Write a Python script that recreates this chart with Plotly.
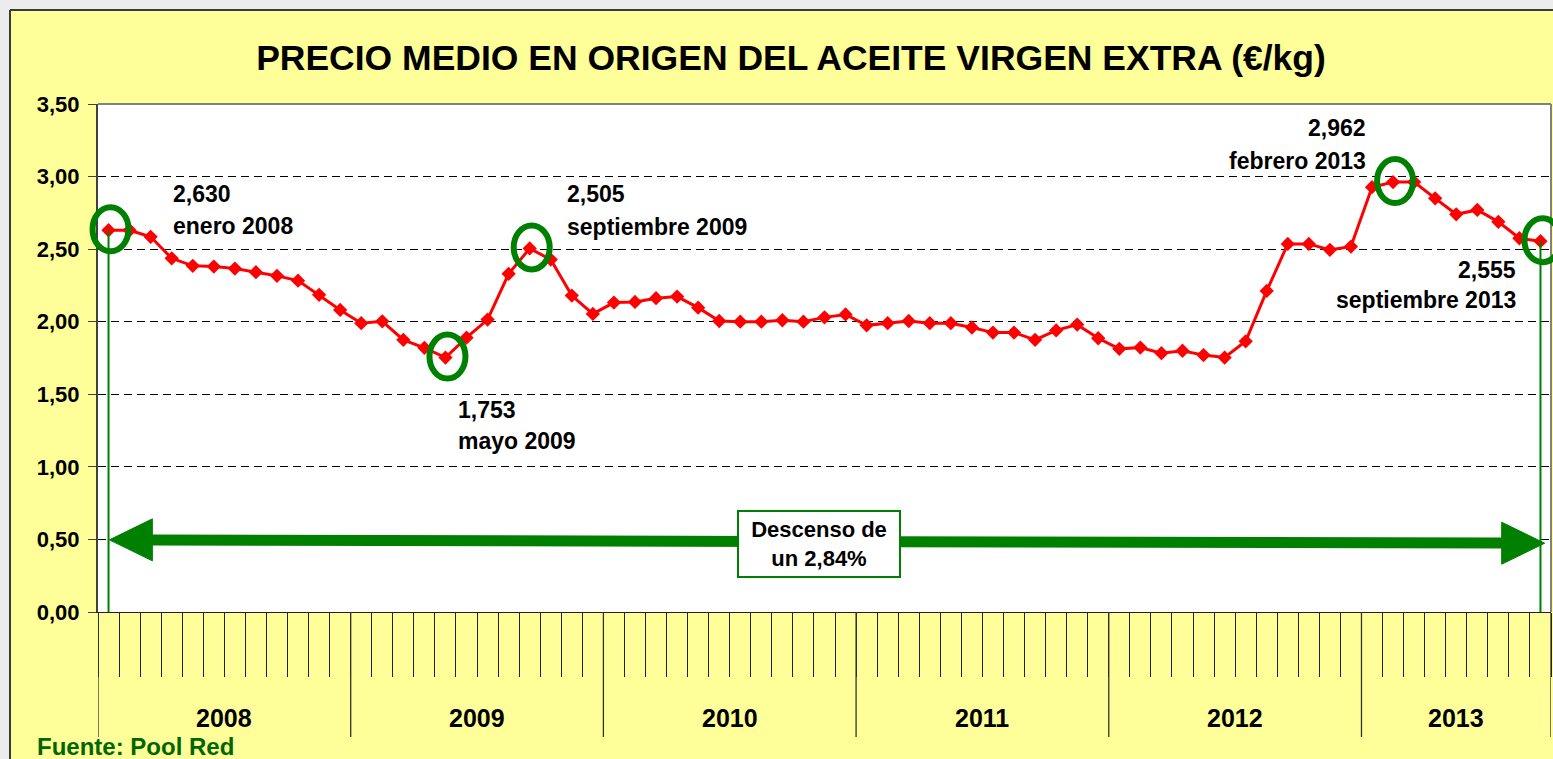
import plotly.graph_objects as go

# ---------------- data ----------------
meses_cortos = ["ene", "feb", "mar", "abr", "may", "jun", "jul", "ago", "sep", "oct", "nov", "dic"]
meses_largos = ["enero", "febrero", "marzo", "abril", "mayo", "junio", "julio", "agosto",
                "septiembre", "octubre", "noviembre", "diciembre"]
anios = [2008, 2009, 2010, 2011, 2012, 2013]
meses_por_anio = [12, 12, 12, 12, 12, 9]

precio = [
    2.630, 2.630, 2.585, 2.437, 2.385, 2.380, 2.366, 2.341, 2.316, 2.283, 2.185, 2.081,   # 2008
    1.990, 2.003, 1.875, 1.820, 1.753, 1.890, 2.015, 2.330, 2.505, 2.428, 2.180, 2.054,   # 2009
    2.132, 2.136, 2.162, 2.173, 2.097, 2.005, 2.000, 2.000, 2.010, 2.000, 2.030, 2.050,   # 2010
    1.975, 1.990, 2.005, 1.990, 1.990, 1.960, 1.925, 1.925, 1.875, 1.940, 1.980, 1.886,   # 2011
    1.813, 1.822, 1.783, 1.800, 1.770, 1.753, 1.865, 2.212, 2.536, 2.536, 2.495, 2.518,   # 2012
    2.927, 2.962, 2.962, 2.850, 2.740, 2.770, 2.688, 2.575, 2.555,                        # 2013
]

y_ticks = [0.0, 0.5, 1.0, 1.5, 2.0, 2.5, 3.0, 3.5]

categorias = [f"{m}-{str(a)[2:]}" for a, n in zip(anios, meses_por_anio) for m in meses_cortos[:n]]
nombres_largos = [f"{m} {a}" for a, n in zip(anios, meses_por_anio) for m in meses_largos[:n]]

destacados = ["ene-08", "may-09", "sep-09", "feb-13", "sep-13"]
texto_descenso = "Descenso de<br>un 2,84%"
titulo = "PRECIO MEDIO EN ORIGEN DEL ACEITE VIRGEN EXTRA (€/kg)"
fuente = "Fuente: Pool Red"

# ---------------- layout geometry / styles ----------------
W, H = 1553, 759
ML, MR, MT, MB = 98, 2, 104, 147
PW, PH = W - ML - MR, H - MT - MB
FONT = "Liberation Sans, Arial, sans-serif"
GREEN = "#008000"
YELLOW = "#FFFF99"

n = len(categorias)
x_min, x_max = -0.5, n - 0.5
px_por_unidad = PW / (x_max - x_min)


def xp(px):
    return (px - ML) / PW


def yp(py):
    return (MT + PH - py) / PH


def idx_paper(i):
    return (i - x_min) / (x_max - x_min)


# label placement (pixel offsets relative to the point)
estilo_etiquetas = {
    "ene-08": dict(xshift=62, ys=(36, 4), anchor="left"),
    "sep-09": dict(xshift=35, ys=(54, 21), anchor="left"),
    "may-09": dict(xshift=11, ys=(-52, -83), anchor="left"),
    "feb-13": dict(xshift=-25, ys=(54, 21), anchor="right"),
    "sep-13": dict(xshift=-22, ys=(-29, -59), anchor="right"),
}

fig = go.Figure()

fig.add_trace(go.Scatter(
    x=categorias, y=precio, mode="lines+markers",
    line=dict(color="#FF0000", width=3),
    marker=dict(symbol="diamond", size=11, color="#FF0000"),
    hoverinfo="x+y", showlegend=False,
))

shapes = []
annotations = []

# outside (grey) border of the chart area
shapes.append(dict(type="rect", xref="paper", yref="paper", x0=xp(-5), x1=xp(10), y0=yp(H + 5), y1=yp(-5),
                   fillcolor="#ECECEC", line=dict(width=0), layer="below"))
shapes.append(dict(type="rect", xref="paper", yref="paper", x0=xp(-5), x1=xp(W + 5), y0=yp(10), y1=yp(-5),
                   fillcolor="#ECECEC", line=dict(width=0), layer="below"))
shapes.append(dict(type="line", xref="paper", yref="paper", x0=xp(10), x1=xp(10), y0=yp(10), y1=yp(H + 5),
                   line=dict(color="#3A3A3A", width=2)))
shapes.append(dict(type="line", xref="paper", yref="paper", x0=xp(10), x1=xp(W + 5), y0=yp(10), y1=yp(10),
                   line=dict(color="#3A3A3A", width=2)))

# plot area border (top / right)
shapes.append(dict(type="line", xref="paper", yref="paper", x0=0, x1=1, y0=1, y1=1,
                   line=dict(color="#808080", width=2)))
shapes.append(dict(type="line", xref="paper", yref="paper", x0=1, x1=1, y0=0, y1=1,
                   line=dict(color="#808080", width=2)))

# year separators and labels
inicio = 0
for a, nm in zip(anios, meses_por_anio):
    shapes.append(dict(type="line", xref="x", yref="paper", x0=inicio - 0.5, x1=inicio - 0.5,
                       y0=0, y1=yp(737), line=dict(color="#333333", width=1.3)))
    annotations.append(dict(xref="x", yref="paper", x=inicio + (nm - 1) / 2, y=yp(718),
                            text=f"<b>{a}</b>", showarrow=False, xanchor="center", yanchor="middle",
                            font=dict(family=FONT, size=25, color="black")))
    inicio += nm
shapes.append(dict(type="line", xref="x", yref="paper", x0=inicio - 0.5, x1=inicio - 0.5,
                   y0=0, y1=yp(737), line=dict(color="#333333", width=1.3)))

# green vertical lines from first / last highlighted point to the axis
for cat in (destacados[0], destacados[-1]):
    i = categorias.index(cat)
    shapes.append(dict(type="line", xref="x", yref="y", x0=i, x1=i, y0=0, y1=precio[i],
                       line=dict(color=GREEN, width=2)))

# big double arrow
i0 = categorias.index(destacados[0])
i1 = categorias.index(destacados[-1])
fx0, fy0 = i0 + 0.04, 0.497
fx1, fy1 = i1 + 0.2, 0.474
cabeza = 42
dx = cabeza / px_por_unidad
pend = (fy1 - fy0) / (fx1 - fx0)
shapes.append(dict(type="line", xref="x", yref="y",
                   x0=fx0 + dx, y0=fy0 + pend * dx, x1=fx1 - dx, y1=fy1 - pend * dx,
                   line=dict(color=GREEN, width=11)))
shapes.append(dict(type="path", xref="x", yref="y", xsizemode="pixel", ysizemode="pixel",
                   xanchor=fx0, yanchor=fy0, path=f"M 0 0 L {cabeza + 1} 21 L {cabeza + 1} -21 Z",
                   fillcolor=GREEN, line=dict(color=GREEN, width=1)))
shapes.append(dict(type="path", xref="x", yref="y", xsizemode="pixel", ysizemode="pixel",
                   xanchor=fx1, yanchor=fy1, path=f"M 0 0 L {-cabeza - 1} 21 L {-cabeza - 1} -21 Z",
                   fillcolor=GREEN, line=dict(color=GREEN, width=1)))

# highlight circles + labels
for cat in destacados:
    i = categorias.index(cat)
    v = precio[i]
    shapes.append(dict(type="circle", xref="paper", yref="y", xsizemode="pixel", ysizemode="pixel",
                       xanchor=idx_paper(i), yanchor=v, x0=-16, x1=20, y0=-21, y1=23,
                       line=dict(color=GREEN, width=6), layer="above"))
    st = estilo_etiquetas[cat]
    lineas = [f"{v:.3f}".replace(".", ","), nombres_largos[i]]
    for txt, ys in zip(lineas, st["ys"]):
        annotations.append(dict(xref="x", yref="y", x=i, y=v, text=f"<b>{txt}</b>", showarrow=False,
                                xanchor=st["anchor"], yanchor="middle", xshift=st["xshift"], yshift=ys,
                                font=dict(family=FONT, size=23, color="black")))

# descent box
annotations.append(dict(xref="x", yref="y", x=33.74, y=0.468, text=f"<b>{texto_descenso}</b>",
                        showarrow=False, xanchor="center", yanchor="middle",
                        bgcolor="white", bordercolor=GREEN, borderwidth=2, borderpad=1,
                        width=158, height=62, align="center",
                        font=dict(family=FONT, size=22, color="black")))

# source
annotations.append(dict(xref="paper", yref="paper", x=xp(35), y=yp(746), text=f"<b>{fuente}</b>",
                        showarrow=False, xanchor="left", yanchor="middle",
                        font=dict(family=FONT, size=24, color="#006600")))

fig.update_layout(
    width=W, height=H, autosize=False,
    margin=dict(l=ML, r=MR, t=MT, b=MB, pad=0),
    paper_bgcolor=YELLOW, plot_bgcolor="white",
    separators=",.",
    title=dict(text=f"<b>{titulo}</b>", x=791 / W, xref="container", xanchor="center",
               y=1 - 58 / H, yref="container", yanchor="middle",
               font=dict(family=FONT, size=35.5, color="black")),
    xaxis=dict(type="category", range=[x_min, x_max], tickson="boundaries", ticks="outside",
               ticklen=64, tickcolor="#222222", tickwidth=1, showticklabels=False, showgrid=False,
               showline=True, linecolor="#222222", linewidth=1, zeroline=False, fixedrange=True),
    yaxis=dict(range=[y_ticks[0], y_ticks[-1]], tickvals=y_ticks, tickformat=".2f",
               ticks="outside", ticklen=8, tickcolor="#404040", ticklabelstandoff=4,
               tickfont=dict(family=FONT, size=22, color="black", weight="bold"),
               showgrid=True, gridcolor="black", gridwidth=1, griddash="8px,5px",
               showline=True, linecolor="#404040", linewidth=2, zeroline=False, fixedrange=True),
    shapes=shapes,
    annotations=annotations,
    showlegend=False,
)

fig.write_html("out.html", config={"displayModeBar": False},
               post_script="document.body.style.margin='0';document.body.style.overflow='hidden';")
